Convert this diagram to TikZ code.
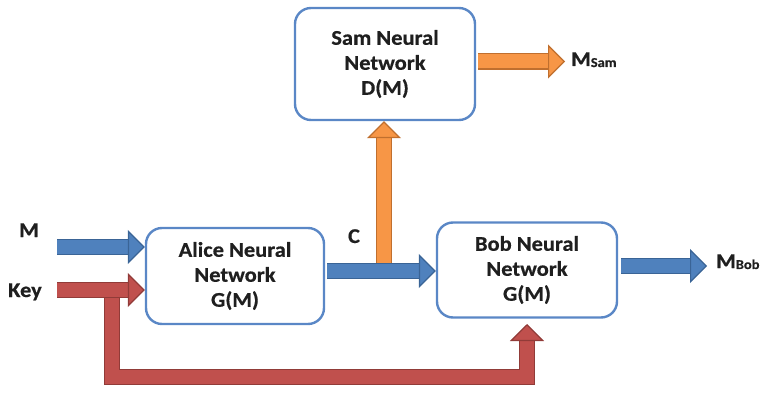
\documentclass[tikz,border=0pt]{standalone}
\usepackage{fontspec}
\setmainfont{Carlito}[FakeStretch=1.07, FakeBold=0.5]
\usetikzlibrary{arrows.meta}

\definecolor{bluefill}{HTML}{4F81BD}
\definecolor{blueedge}{HTML}{3A6496}
\definecolor{redfill}{HTML}{C0504D}
\definecolor{rededge}{HTML}{913B38}
\definecolor{orangefill}{HTML}{F79646}
\definecolor{orangeedge}{HTML}{C06F2E}
\definecolor{boxedge}{HTML}{5A87C6}
\definecolor{ink}{HTML}{1F1F1F}

% smaller type for the subscripts of the output labels
\newcommand\subsigfont{\fontsize{13.5}{13.5}\selectfont\bfseries}

\tikzset{
  netbox/.style={draw=boxedge, line width=2.4pt, rounded corners=16pt, fill=white,
    align=center, text=ink, font=\fontsize{21}{25}\selectfont\bfseries},
  fatarrow/.style 2 args={
    preaction={draw=#2, line width=16.5pt, -, line join=miter, shorten >=15pt},
    draw=#1, line width=14pt, line join=miter,
    -{Triangle[length=17pt, width=34pt, line width=1.2pt, color=#2, fill=#1]}},
  sig/.style={text=ink, font=\fontsize{21}{25}\selectfont\bfseries, inner sep=0pt}
}

\begin{document}
\begin{tikzpicture}[x=1pt, y=-1pt]
  \useasboundingbox (0,0) rectangle (761,393);
  \clip (0,0) rectangle (761,393);

  % the three networks
  \node[netbox, minimum width=180pt, minimum height=112pt] (sam)   at (385,64)  {Sam Neural\\Network\\D(M)};
  \node[netbox, minimum width=178pt, minimum height=96pt]  (alice) at (235,276) {Alice Neural\\Network\\G(M)};
  \node[netbox, minimum width=180pt, minimum height=95pt]  (bob)   at (527,270) {Bob Neural\\Network\\G(M)};

  % free ends of the connectors
  \coordinate (mIn)    at (57,247);
  \coordinate (keyIn)  at (57,290);
  \coordinate (keyTap) at (112,290);
  \coordinate (loopR)  at (527,377);
  \coordinate (fbEnd)  at (527,324);
  \coordinate (cOut)   at (327,271);
  \coordinate (tapC)   at (384,268);
  \coordinate (samOut) at (478,61.5);
  \coordinate (samEnd) at (565,61.5);
  \coordinate (bobOut) at (621,266);
  \coordinate (bobEnd) at (707,266);

  % key shared with Bob
  \draw[fatarrow={redfill}{rededge}] (keyTap) |- (loopR) -- (fbEnd);
  % Sam intercepts the ciphertext
  \draw[fatarrow={orangefill}{orangeedge}] (tapC) -- (sam.south -| tapC);
  % inputs and ciphertext
  \draw[fatarrow={bluefill}{blueedge}] (mIn) -- (alice.west |- mIn);
  \draw[fatarrow={redfill}{rededge}] (keyIn) -- (alice.west |- keyIn);
  \draw[fatarrow={bluefill}{blueedge}] (cOut) -- (bob.west |- cOut);
  % outputs
  \draw[fatarrow={orangefill}{orangeedge}] (samOut) -- (samEnd);
  \draw[fatarrow={bluefill}{blueedge}] (bobOut) -- (bobEnd);

  % signal labels
  \node[sig, anchor=base] (lblM)   at (29,237)  {M};
  \node[sig, anchor=base] (lblKey) at (25,297)  {Key};
  \node[sig, anchor=base] (lblC)   at (354,243) {C};
  \node[sig, anchor=base west] (lblSam) at (571,66) {M\raisebox{-1pt}{\subsigfont Sam}};
  \node[sig, anchor=base west] (lblBob) at (716,268) {M\raisebox{-1pt}{\subsigfont Bob}};
\end{tikzpicture}
\end{document}
